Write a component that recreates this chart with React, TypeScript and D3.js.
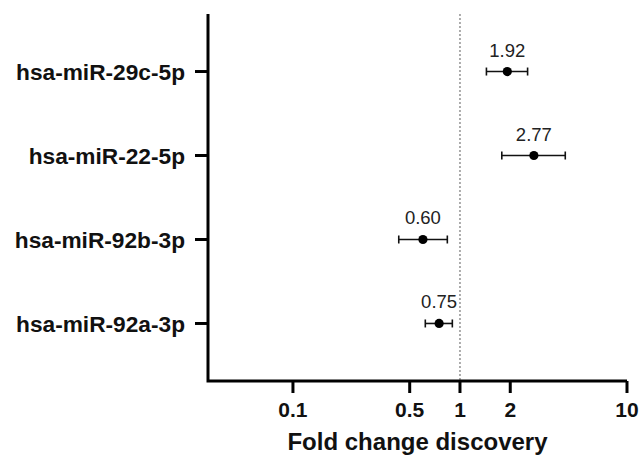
import React from 'react';
import * as d3 from 'd3';

const mirnas = ['hsa-miR-29c-5p', 'hsa-miR-22-5p', 'hsa-miR-92b-3p', 'hsa-miR-92a-3p'];
const foldChange = [1.92, 2.77, 0.6, 0.75];
const lowerCI = [1.44, 1.78, 0.43, 0.62];
const upperCI = [2.54, 4.27, 0.84, 0.9];
const xTicks = [0.1, 0.5, 1, 2, 10];

const W = 639;
const H = 459;
const font = '"Liberation Sans", Arial, Helvetica, sans-serif';

const App = () => {
  const x = d3.scaleLog().domain([0.031, 10]).range([208, 627]);
  const y = d3.scalePoint<string>().domain(mirnas).range([14, 381]).padding(0.685);
  const axisY = 381;

  return (
    <svg width={W} height={H} style={{ position: 'absolute', left: 0, top: 0, background: '#fff' }}>
      {/* reference line at fold change 1 */}
      <line x1={x(1)} x2={x(1)} y1={14} y2={axisY} stroke="#999" strokeWidth={1.6} strokeDasharray="2,2" />

      {/* axes */}
      <path d={`M208,14V${axisY}H${x(10)}`} fill="none" stroke="#000" strokeWidth={3} />
      {mirnas.map(m => (
        <g key={m}>
          <line x1={195} x2={208} y1={y(m)} y2={y(m)} stroke="#000" strokeWidth={3} />
          <text x={185} y={y(m)} dy="0.36em" textAnchor="end" fontFamily={font} fontWeight="bold" fontSize={22.7} fill="#111">
            {m}
          </text>
        </g>
      ))}
      {xTicks.map(t => (
        <g key={t}>
          <line x1={x(t)} x2={x(t)} y1={axisY} y2={axisY + 12} stroke="#000" strokeWidth={3} />
          <text x={x(t)} y={417} textAnchor="middle" fontFamily={font} fontWeight="bold" fontSize={21} fill="#111">
            {t}
          </text>
        </g>
      ))}
      <text x={(208 + 627) / 2} y={450} textAnchor="middle" fontFamily={font} fontWeight="bold" fontSize={24} fill="#111">
        Fold change discovery
      </text>

      {/* points with error bars */}
      {mirnas.map((m, i) => {
        const cy = y(m) as number;
        const lo = x(lowerCI[i]);
        const hi = x(upperCI[i]);
        return (
          <g key={'p' + m}>
            <line x1={lo} x2={hi} y1={cy} y2={cy} stroke="#111" strokeWidth={1.6} />
            <line x1={lo} x2={lo} y1={cy - 4} y2={cy + 4} stroke="#111" strokeWidth={1.6} />
            <line x1={hi} x2={hi} y1={cy - 4} y2={cy + 4} stroke="#111" strokeWidth={1.6} />
            <circle cx={x(foldChange[i])} cy={cy} r={4.6} fill="#000" />
            <text x={x(foldChange[i])} y={cy - 15} textAnchor="middle" fontFamily={font} fontSize={18.5} fill="#222">
              {foldChange[i].toFixed(2)}
            </text>
          </g>
        );
      })}
    </svg>
  );
};

export default App;
